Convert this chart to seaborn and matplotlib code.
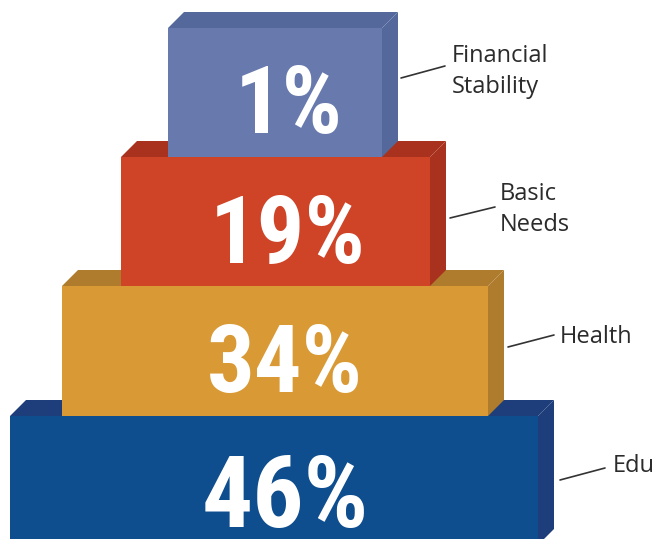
import matplotlib
matplotlib.use("Agg")
import matplotlib.pyplot as plt
from matplotlib.patches import Polygon
from matplotlib import font_manager
import seaborn as sns

# ---- data ----
categories = ["Edu", "Health", "Basic\nNeeds", "Financial\nStability"]
values = [46, 34, 19, 1]

# ---- styles / layout (pixel space) ----
front_colors = ["#0E4D8E", "#D99A36", "#CF4327", "#6779AD"]
shade_colors = ["#1D3E7B", "#AF7C2D", "#A9321F", "#55689B"]
box_left = [10, 62, 121, 168]
box_right = [538, 488, 430, 382]
box_top = [416, 286, 157, 28]
box_bottom = [545, 416, 286, 157]
depth = 16
pct_x = [285, 285, 288, 289]
pct_base = [527, 392, 263, 133]
pct_size = [73, 68, 68, 68]
label_x = [613, 560, 500, 452]
label_y = [472, 343, 182, 44]
lead_start = [(560, 480), (508, 347), (450, 218), (401, 78)]
lead_end = [(605, 468), (554, 335), (495, 207), (445, 66)]

sns.set_theme(style="white")
plt.rcParams["font.family"] = ["Open Sans", "DejaVu Sans"]

available = {f.name for f in font_manager.fontManager.ttflist}
pct_family = "Liberation Sans"
for cand in ["Liberation Sans Narrow", "Roboto Condensed", "Open Sans Condensed",
             "DejaVu Sans Condensed", "Roboto"]:
    if cand in available:
        pct_family = cand
        break

fig = plt.figure(figsize=(6.65, 5.39), dpi=100)
ax = fig.add_axes([0, 0, 1, 1])
ax.set_xlim(0, 665)
ax.set_ylim(539, 0)
ax.axis("off")

for i, (cat, val) in enumerate(zip(categories, values)):
    L, R, T, B = box_left[i], box_right[i], box_top[i], box_bottom[i]
    # front face through the axes' bar machinery
    ax.barh((T + B) / 2, R - L, height=B - T, left=L,
            color=front_colors[i], edgecolor="none", zorder=2 + i * 3)
    # top face
    ax.add_patch(Polygon([(L, T), (L + depth, T - depth), (R + depth, T - depth), (R, T)],
                         closed=True, facecolor=shade_colors[i], edgecolor="none",
                         zorder=1 + i * 3))
    # side face
    ax.add_patch(Polygon([(R, T), (R + depth, T - depth), (R + depth, B - depth), (R, B)],
                         closed=True, facecolor=shade_colors[i], edgecolor="none",
                         zorder=1 + i * 3))
    # percentage
    ax.text(pct_x[i], pct_base[i], f"{val}%", ha="center", va="baseline",
            color="white", fontsize=pct_size[i], fontweight="bold",
            family=[pct_family, "DejaVu Sans"],
            zorder=3 + i * 3)
    # leader line + label
    (x0, y0), (x1, y1) = lead_start[i], lead_end[i]
    ax.plot([x0, x1], [y0, y1], color="#333333", lw=1.2, zorder=20)
    multi = "\n" in cat
    ax.text(label_x[i], label_y[i], cat, ha="left", va="top" if multi else "baseline",
            color="#2b2b2b", fontsize=17, linespacing=1.4, zorder=20)

fig.savefig("out.png", dpi=100, facecolor="white")
